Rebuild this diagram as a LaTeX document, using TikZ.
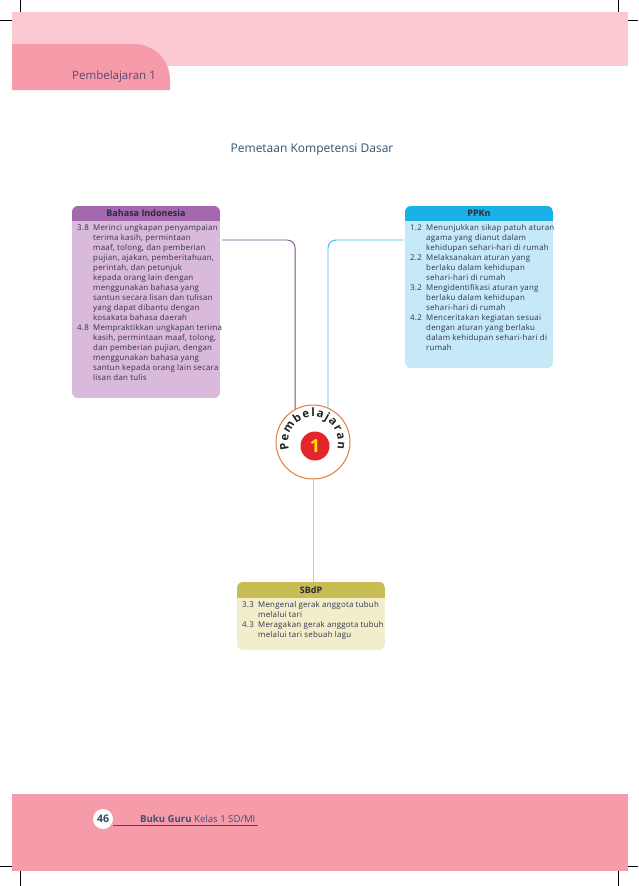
\documentclass[tikz,border=0pt]{standalone}
\usepackage{fontspec}
\setmainfont{Open Sans}
\newfontfamily\bodyfont{Open Sans}[LetterSpace=3]
\usetikzlibrary{decorations.text,calc}
\definecolor{bandlight}{HTML}{FBC9D1}
\definecolor{bandpink}{HTML}{F59BAA}
\definecolor{tabtext}{HTML}{574870}
\definecolor{titleblue}{HTML}{35536D}
\definecolor{bihead}{HTML}{A468AE}
\definecolor{bibody}{HTML}{D9B9DC}
\definecolor{bilink}{HTML}{7B4F8D}
\definecolor{pphead}{HTML}{1AAFE6}
\definecolor{ppbody}{HTML}{C6E9F8}
\definecolor{pplink}{HTML}{40B6DE}
\definecolor{sbhead}{HTML}{C8BC55}
\definecolor{sbbody}{HTML}{F2EECC}
\definecolor{sblink}{HTML}{D9C98C}
\definecolor{txtgray}{HTML}{33334A}
\definecolor{headdark}{HTML}{2A2A3A}
\definecolor{circorange}{HTML}{E47A3C}
\definecolor{circred}{HTML}{E3262B}
\definecolor{oneyellow}{HTML}{FFE500}
\definecolor{arctext}{HTML}{222222}
\definecolor{pagenum}{HTML}{2B4A60}
\definecolor{foottext}{HTML}{434E70}
\begin{document}
\begin{tikzpicture}[x=1pt,y=1pt,
  box/.style={minimum width=148pt, inner sep=0, outer sep=0, anchor=north west, draw=none},
  itemtext/.style={anchor=north west, inner sep=0, font=\bodyfont\fontsize{7.9}{10}\selectfont, text=txtgray},
  headtext/.style={font=\bfseries\fontsize{9}{10}\selectfont, text=headdark, inner sep=0},
  link/.style={line width=0.9pt, rounded corners=8pt},
  crop/.style={line width=0.5pt, black}]

\useasboundingbox (0,0) rectangle (638,-886);
\fill[white] (0,0) rectangle (638,-886);

% crop marks
\draw[crop] (20,0) -- (20,-15);
\draw[crop] (0,-20) -- (13,-20);
\draw[crop] (618,0) -- (618,-15);
\draw[crop] (625,-20) -- (638,-20);
\draw[crop] (0,-866) -- (13,-866);
\draw[crop] (625,-866) -- (638,-866);
\draw[crop] (20,-871) -- (20,-886);
\draw[crop] (618,-871) -- (618,-886);

% top band
\fill[bandlight] (12,-12) rectangle (628,-66);
\fill[bandpink] (12,-44) -- (134,-44) arc[start angle=90,end angle=0,radius=36] -- (170,-90) -- (12,-90) -- cycle;
\node[font=\fontsize{11.5}{12}\selectfont, text=tabtext, anchor=west, inner sep=0] (tabtitle) at (72,-77) {Pembelajaran 1};

\node[font=\fontsize{12}{14}\selectfont, text=titleblue] (title) at (312,-150) {Pemetaan Kompetensi Dasar};

% Bahasa Indonesia box
\node[box, minimum height=192pt] (bi) at (72,-206) {};
\begin{scope}
\clip[rounded corners=6pt] (bi.north west) rectangle (bi.south east);
\fill[bibody] (bi.north west) rectangle (bi.south east);
\fill[bihead] (bi.north west) rectangle ($(bi.north east)+(0,-15)$);
\end{scope}
\node[headtext] (bihd) at ($(bi.north)+(0,-7.5)$) {Bahasa Indonesia};
\node[itemtext] (bitx) at (77,-223) {\begin{tabular}{@{}p{16pt}@{}l@{}}
3.8 & Merinci ungkapan penyampaian\\
 & terima kasih, permintaan\\
 & maaf, tolong, dan pemberian\\
 & pujian, ajakan, pemberitahuan,\\
 & perintah, dan petunjuk\\
 & kepada orang lain dengan\\
 & menggunakan bahasa yang\\
 & santun secara lisan dan tulisan\\
 & yang dapat dibantu dengan\\
 & kosakata bahasa daerah\\
4.8 & Mempraktikkan ungkapan terima\\
 & kasih, permintaan maaf, tolong,\\
 & dan pemberian pujian, dengan\\
 & menggunakan bahasa yang\\
 & santun kepada orang lain secara\\
 & lisan dan tulis
\end{tabular}};

% PPKn box
\node[box, minimum height=162pt] (pp) at (405,-206) {};
\begin{scope}
\clip[rounded corners=6pt] (pp.north west) rectangle (pp.south east);
\fill[ppbody] (pp.north west) rectangle (pp.south east);
\fill[pphead] (pp.north west) rectangle ($(pp.north east)+(0,-15)$);
\end{scope}
\node[headtext] (pphd) at ($(pp.north)+(0,-7.5)$) {PPKn};
\node[itemtext] (pptx) at (410,-223) {\begin{tabular}{@{}p{16pt}@{}l@{}}
1.2 & Menunjukkan sikap patuh aturan\\
 & agama yang dianut dalam\\
 & kehidupan sehari-hari di rumah\\
2.2 & Melaksanakan aturan yang\\
 & berlaku dalam kehidupan\\
 & sehari-hari di rumah\\
3.2 & Mengidentifikasi aturan yang\\
 & berlaku dalam kehidupan\\
 & sehari-hari di rumah\\
4.2 & Menceritakan kegiatan sesuai\\
 & dengan aturan yang berlaku\\
 & dalam kehidupan sehari-hari di\\
 & rumah
\end{tabular}};

% SBdP box
\node[box, minimum height=68pt] (sb) at (237,-582) {};
\begin{scope}
\clip[rounded corners=6pt] (sb.north west) rectangle (sb.south east);
\fill[sbbody] (sb.north west) rectangle (sb.south east);
\fill[sbhead] (sb.north west) rectangle ($(sb.north east)+(0,-16)$);
\end{scope}
\node[headtext] (sbhd) at ($(sb.north)+(0,-8)$) {SBdP};
\node[itemtext] (sbtx) at (242,-600) {\begin{tabular}{@{}p{16pt}@{}l@{}}
3.3 & Mengenal gerak anggota tubuh\\
 & melalui tari\\
4.3 & Meragakan gerak anggota tubuh\\
 & melalui tari sebuah lagu
\end{tabular}};

% connectors
\draw[link, color=bilink] ($(bi.north east)+(2,-34)$) -| (313-17.9,-412);
\draw[link, color=pplink] ($(pp.north west)+(-2,-34)$) -| (313+15,-412);

% centre circle
\node[circle, draw=circorange, fill=white, line width=1pt, minimum size=74pt, inner sep=0] (circ) at (313,-442) {};
\node[circle, fill=circred, minimum size=29pt, inner sep=0, text=oneyellow, font=\bfseries\fontsize{18}{18}\selectfont] (one) at (315,-446) {1};
\begin{scope}[shift={(circ.center)}]
\path[decorate, decoration={text along path, text color=arctext,
  text={|\bfseries\fontsize{11.5}{12}\selectfont|Pembelajaran}, text align={fit to path}}]
  (198:25) arc[start angle=198, end angle=-16, radius=25];
\end{scope}
\draw[link, color=sblink] (circ.south) -- (circ.south |- sb.north);

% footer
\fill[bandpink] (12,-794) rectangle (628,-871);
\coordinate (ulend) at (258,-825);
\node[circle, fill=white, minimum size=20pt, inner sep=0, font=\bfseries\fontsize{10.5}{10}\selectfont, text=pagenum] (pg) at (103,-819) {46};
\draw[line width=0.9pt, foottext] (pg.east |- ulend) -- (ulend);
\node[anchor=base west, inner sep=0, font=\fontsize{9.6}{10}\selectfont, text=foottext] (foot) at (140,-822) {\textbf{Buku Guru} Kelas 1 SD/MI};
\end{tikzpicture}
\end{document}
